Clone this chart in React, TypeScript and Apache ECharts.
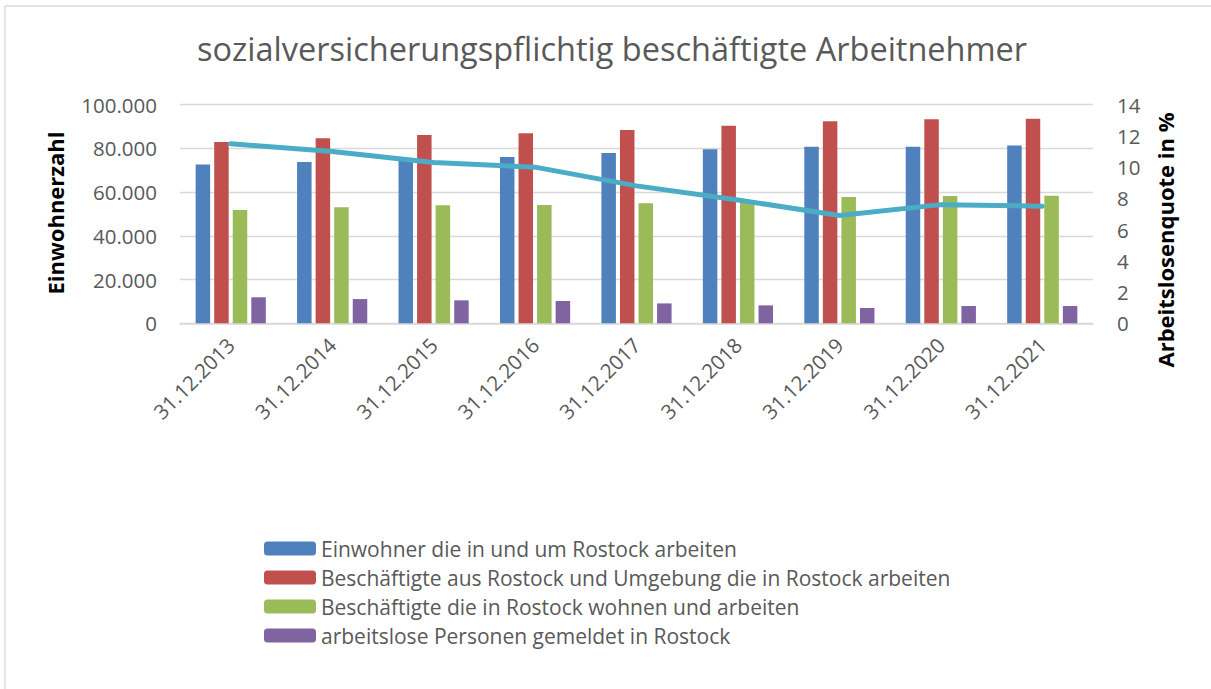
import React, { useEffect, useRef } from "react";
import * as echarts from "echarts";

const categories = ["31.12.2013", "31.12.2014", "31.12.2015", "31.12.2016", "31.12.2017", "31.12.2018", "31.12.2019", "31.12.2020", "31.12.2021"];
const einwohner = [72600, 73800, 74500, 76100, 77900, 79600, 80800, 80800, 81300];
const beschaeftigteUmgebung = [82900, 84600, 86100, 86900, 88400, 90400, 92400, 93300, 93600];
const beschaeftigteRostock = [51800, 53100, 54000, 54100, 54900, 56400, 57800, 58200, 58400];
const arbeitslose = [11900, 11100, 10500, 10200, 9100, 8200, 7000, 7900, 7900];
const quote = [11.5, 11.0, 10.3, 10.0, 8.8, 7.9, 6.9, 7.6, 7.5];

const seriesNames = [
  "Einwohner die in und um Rostock arbeiten",
  "Beschäftigte aus Rostock und Umgebung die in Rostock arbeiten",
  "Beschäftigte die in Rostock wohnen und arbeiten",
  "arbeitslose Personen gemeldet in Rostock",
];
const lineName = "Arbeitslosenquote";
const leftAxisTitle = "Einwohnerzahl";
const rightAxisTitle = "Arbeitslosenquote in %";
const leftTicks = { min: 0, max: 100000, interval: 20000 };
const rightTicks = { min: 0, max: 14, interval: 2 };

const FONT = "'Open Sans', 'Noto Sans', sans-serif";
const GREY = "#595959";

export default function App() {
  const ref = useRef<HTMLDivElement>(null);
  useEffect(() => {
    if (!ref.current) return;
    const chart = echarts.init(ref.current, undefined, { renderer: "svg" });
    const fmt = (v: number) => String(v).replace(/\B(?=(\d{3})+(?!\d))/g, ".");
    const barColors = ["#4f81bd", "#c0504d", "#9bbb59", "#8064a2"];
    const barData = [einwohner, beschaeftigteUmgebung, beschaeftigteRostock, arbeitslose];
    chart.setOption({
      animation: false,
      backgroundColor: "#ffffff",
      textStyle: { fontFamily: FONT },
      title: {
        text: "sozialversicherungspflichtig beschäftigte Arbeitnehmer",
        left: 192,
        top: 27,
        textStyle: { fontFamily: FONT, fontSize: 32.5, fontWeight: "normal", color: GREY },
      },
      graphic: [
        {
          type: "rect",
          shape: { x: 5, y: 6, width: 1400, height: 900 },
          style: { fill: "none", stroke: "#d9d9d9", lineWidth: 1.3 },
          silent: true,
        },
        {
          type: "text",
          x: 55,
          y: 213,
          rotation: Math.PI / 2,
          style: {
            text: leftAxisTitle,
            align: "center",
            verticalAlign: "middle",
            font: `bold 22px ${FONT}`,
            fill: "#000",
          },
        },
        {
          type: "text",
          x: 1165,
          y: 240,
          rotation: Math.PI / 2,
          style: {
            text: rightAxisTitle,
            align: "center",
            verticalAlign: "middle",
            font: `bold 22px ${FONT}`,
            fill: "#000",
          },
        },
      ],
      legend: {
        orient: "vertical",
        left: 259,
        top: 533,
        itemWidth: 52,
        itemHeight: 14,
        itemGap: 8,
        data: seriesNames,
        textStyle: { fontFamily: FONT, fontSize: 21, color: GREY, lineHeight: 21 },
      },
      grid: { left: 180, right: 118, top: 104.7, bottom: 365.7, containLabel: false },
      xAxis: {
        type: "category",
        data: categories,
        axisLine: { lineStyle: { color: "#d9d9d9", width: 1.5 } },
        axisTick: { show: false },
        axisLabel: { interval: 0, rotate: 45, color: GREY, fontSize: 20.5, fontFamily: FONT, margin: 18 },
      },
      yAxis: [
        {
          type: "value",
          ...leftTicks,
          axisLabel: { formatter: fmt, color: GREY, fontSize: 20.5, fontFamily: FONT, margin: 23 },
          splitLine: { lineStyle: { color: "#d9d9d9", width: 1.3 } },
          axisLine: { show: false },
          axisTick: { show: false },
        },
        {
          type: "value",
          ...rightTicks,
          axisLabel: { color: GREY, fontSize: 20.5, fontFamily: FONT, margin: 24 },
          splitLine: { show: false },
          axisLine: { show: false },
          axisTick: { show: false },
        },
      ],
      series: [
        ...barData.map((d, i) => ({
          name: seriesNames[i],
          type: "bar",
          data: d,
          yAxisIndex: 0,
          barWidth: 14.5,
          barGap: "28%",
          itemStyle: { color: barColors[i] },
        })),
        {
          name: lineName,
          type: "line",
          data: quote,
          yAxisIndex: 1,
          symbol: "none",
          lineStyle: { color: "#4bacc6", width: 5, cap: "round", join: "round" },
          itemStyle: { color: "#4bacc6" },
          z: 5,
        },
      ],
    });
    return () => chart.dispose();
  }, []);
  return <div ref={ref} style={{ position: "absolute", left: 0, top: 0, width: 1211, height: 689 }} />;
}
